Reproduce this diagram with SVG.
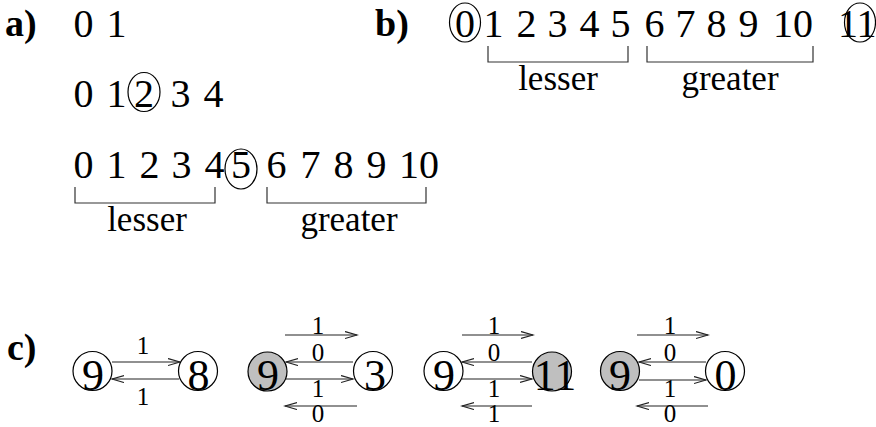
<svg xmlns="http://www.w3.org/2000/svg" width="876" height="427" viewBox="0 0 876 427" font-family="'Liberation Serif','Times New Roman',serif">
<style>
text{font-family:"Liberation Serif","Times New Roman",serif;fill:#000}
.lab{font-weight:bold;font-size:38px}
.d{font-size:40px}
.w{font-size:35px;text-anchor:middle}
.n{font-size:44px;text-anchor:middle}
.e{font-size:25px;text-anchor:middle}
.br{fill:none;stroke:#333;stroke-width:1.2}
.c{fill:none;stroke:#000;stroke-width:1.2}
.nw{fill:#fff;stroke:#000;stroke-width:1.2}
.ng{fill:#bfbfbf;stroke:#000;stroke-width:1.2}
.a{stroke:#222;stroke-width:1.2;fill:none;marker-end:url(#ah)}
</style>
<defs>
<marker id="ah" markerUnits="userSpaceOnUse" markerWidth="14" markerHeight="9" refX="12" refY="4" orient="auto">
<path d="M0,0.5 L12,4 L0,7.5" fill="none" stroke="#222" stroke-width="1.2"/>
</marker>
</defs>

<g id="part-a">
<text class="lab" x="5" y="36">a)</text>
<text class="d" y="37"><tspan x="73.5">0</tspan><tspan x="106.5">1</tspan></text>
<text class="d" y="107"><tspan x="73.5">0</tspan><tspan x="106.5">1</tspan><tspan x="134">2</tspan><tspan x="170.5">3</tspan><tspan x="203.5">4</tspan></text>
<ellipse class="c" cx="144" cy="92" rx="16" ry="19.5"/>
<text class="d" y="178"><tspan x="73.5">0</tspan><tspan x="106.5">1</tspan><tspan x="139.5">2</tspan><tspan x="171.5">3</tspan><tspan x="204.5">4</tspan><tspan x="231">5</tspan><tspan x="266.5">6</tspan><tspan x="300.5">7</tspan><tspan x="333.5">8</tspan><tspan x="366.5">9</tspan><tspan x="399">10</tspan></text>
<ellipse class="c" cx="241" cy="169" rx="16" ry="20"/>
<path class="br" d="M75,187 V203 H215 V187"/>
<path class="br" d="M267,187 V203 H426 V187"/>
<text class="w" x="147" y="231">lesser</text>
<text class="w" x="349" y="231">greater</text>
</g>

<g id="part-b">
<text class="lab" x="375" y="36">b)</text>
<text class="d" y="37"><tspan x="455">0</tspan><tspan x="483.5">1</tspan><tspan x="516.5">2</tspan><tspan x="547.5">3</tspan><tspan x="579.5">4</tspan><tspan x="610.5">5</tspan><tspan x="644.5">6</tspan><tspan x="675.5">7</tspan><tspan x="706.5">8</tspan><tspan x="738.5">9</tspan><tspan x="773">10</tspan><tspan x="838">11</tspan></text>
<ellipse class="c" cx="465" cy="22.5" rx="15.5" ry="19.5"/>
<ellipse class="c" cx="860" cy="22.5" rx="15.5" ry="19.5"/>
<path class="br" d="M488,46 V62 H628 V46"/>
<path class="br" d="M647,46 V62 H813 V46"/>
<text class="w" x="558" y="90">lesser</text>
<text class="w" x="730" y="90">greater</text>
</g>

<text class="lab" x="7" y="360">c)</text>

<g id="connectors">
<line class="a" x1="112" y1="362" x2="180" y2="362"/>
<line class="a" x1="179" y1="379" x2="112" y2="379"/>
<line class="a" x1="285" y1="335" x2="357" y2="335"/>
<line class="a" x1="353" y1="362" x2="286" y2="362"/>
<line class="a" x1="286" y1="379" x2="353" y2="379"/>
<line class="a" x1="357" y1="406" x2="285" y2="406"/>
<line class="a" x1="462" y1="335" x2="533" y2="335"/>
<line class="a" x1="532" y1="362" x2="462" y2="362"/>
<line class="a" x1="462" y1="379" x2="532" y2="379"/>
<line class="a" x1="532" y1="406" x2="462" y2="406"/>
<line class="a" x1="637" y1="335" x2="708" y2="335"/>
<line class="a" x1="706" y1="362" x2="639" y2="362"/>
<line class="a" x1="639" y1="380" x2="706" y2="380"/>
<line class="a" x1="708" y1="406" x2="637" y2="406"/>
<text class="e" x="143" y="354">1</text>
<text class="e" x="143" y="405">1</text>
<text class="e" x="318" y="334">1</text>
<text class="e" x="318" y="361">0</text>
<text class="e" x="318" y="397">1</text>
<text class="e" x="318" y="422">0</text>
<text class="e" x="494" y="334">1</text>
<text class="e" x="494" y="361">0</text>
<text class="e" x="494" y="397">1</text>
<text class="e" x="494" y="422">1</text>
<text class="e" x="670" y="334">1</text>
<text class="e" x="670" y="361">0</text>
<text class="e" x="670" y="397">1</text>
<text class="e" x="670" y="422">0</text>
</g>

<g id="node-p1-9"><circle class="nw" cx="92.5" cy="371" r="19.5"/><text class="n" x="93" y="390">9</text></g>
<g id="node-p1-8"><circle class="nw" cx="198" cy="371" r="19.5"/><text class="n" x="198.5" y="390">8</text></g>
<g id="node-p2-9"><circle class="ng" cx="267.5" cy="371.5" r="19.5"/><text class="n" x="268" y="390">9</text></g>
<g id="node-p2-3"><circle class="nw" cx="373" cy="371" r="19.5"/><text class="n" x="375" y="390">3</text></g>
<g id="node-p3-9"><circle class="nw" cx="443.5" cy="371" r="19.5"/><text class="n" x="444" y="390">9</text></g>
<g id="node-p3-11"><circle class="ng" cx="552" cy="371.5" r="19.5"/><text class="n" x="555" y="390">11</text></g>
<g id="node-p4-9"><circle class="ng" cx="620" cy="371" r="19.5"/><text class="n" x="620" y="390">9</text></g>
<g id="node-p4-0"><circle class="nw" cx="725" cy="371" r="19.5"/><text class="n" x="725.5" y="390">0</text></g>
</svg>
